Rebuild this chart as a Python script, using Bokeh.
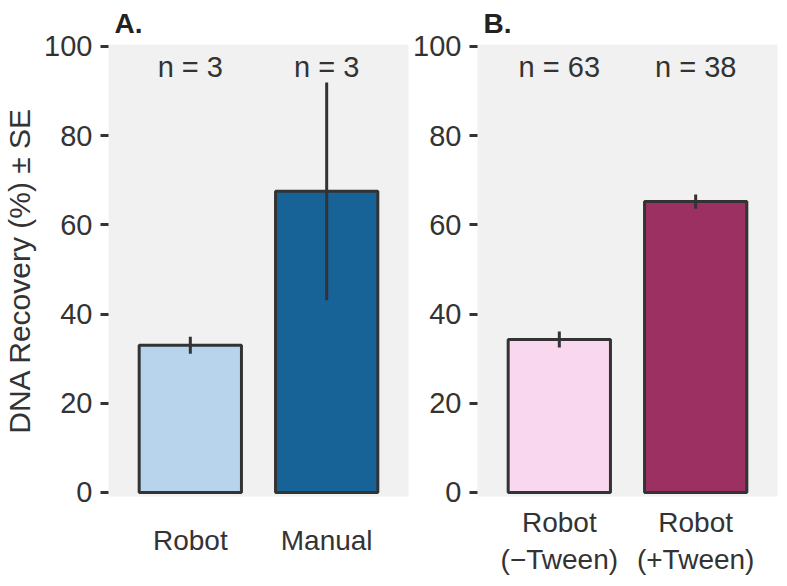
from bokeh.plotting import figure
from bokeh.layouts import row
from bokeh.models import FactorRange, Range1d, FixedTicker, ColumnDataSource
from bokeh.core.properties import value
from bokeh.embed import file_html
from bokeh.resources import INLINE

# ---- data ----
groups_a = ["Robot", "Manual"]
means_a = [33.0, 67.5]
se_a = [1.9, 24.4]
n_a = [3, 3]
colors_a = ["#b8d4ec", "#176296"]

groups_b = ["Robot\n(\u2212Tween)", "Robot\n(+Tween)"]
means_b = [34.3, 65.2]
se_b = [1.8, 1.6]
n_b = [63, 38]
colors_b = ["#f9d7ee", "#9c3062"]

y_ticks = [0, 20, 40, 60, 80, 100]
y_label = "DNA Recovery (%) \u00b1 SE"

FONT = "Liberation Sans"
FS = "29px"
DARK = "#333333"
BG = "#f1f1f1"


def panel(groups, means, ses, ns, colors, title, ylabel, label_standoff,
          min_left, min_right):
    p = figure(x_range=FactorRange(*groups, range_padding=0.1, range_padding_units="percent"),
               y_range=Range1d(-0.9, 100.4),
               frame_width=300, frame_height=452,
               min_border_left=min_left, min_border_right=min_right,
               min_border_top=10, min_border_bottom=10,
               output_backend="svg", toolbar_location=None,
               background_fill_color=BG, border_fill_color="white",
               outline_line_color=None)
    src = ColumnDataSource(dict(x=groups, top=means, color=colors,
                                lo=[m - s for m, s in zip(means, ses)],
                                hi=[m + s for m, s in zip(means, ses)],
                                n=["n = %d" % v for v in ns],
                                ny=[95.4] * len(groups)))
    p.vbar(x="x", top="top", bottom=0, width=0.75, source=src,
           fill_color="color", line_color=DARK, line_width=3)
    p.segment(x0="x", x1="x", y0="lo", y1="hi", source=src,
              line_color=DARK, line_width=3)
    p.text(x="x", y="ny", text="n", source=src, text_align="center",
           text_baseline="middle", text_font=value(FONT),
           text_font_size=FS, text_color=DARK)

    p.xgrid.visible = False
    p.ygrid.visible = False

    p.yaxis.ticker = FixedTicker(ticks=y_ticks)
    p.yaxis.axis_line_color = None
    p.yaxis.major_tick_line_color = DARK
    p.yaxis.major_tick_line_width = 3
    p.yaxis.major_tick_out = 8
    p.yaxis.major_tick_in = 0
    p.yaxis.minor_tick_line_color = None
    p.yaxis.major_label_standoff = 8
    p.yaxis.major_label_text_font = FONT
    p.yaxis.major_label_text_font_size = FS
    p.yaxis.major_label_text_color = DARK
    if ylabel:
        p.yaxis.axis_label = ylabel
        p.yaxis.axis_label_text_font = FONT
        p.yaxis.axis_label_text_font_size = "30px"
        p.yaxis.axis_label_text_font_style = "normal"
        p.yaxis.axis_label_text_color = DARK
        p.yaxis.axis_label_standoff = 5

    p.xaxis.axis_line_color = None
    p.xaxis.major_tick_line_color = None
    p.xaxis.minor_tick_line_color = None
    p.xaxis.major_label_standoff = label_standoff
    p.xaxis.major_label_text_font = FONT
    p.xaxis.major_label_text_font_size = "28px"
    p.xaxis.major_label_text_color = DARK
    p.xaxis.major_label_text_align = "center"

    p.title.text = title
    p.title.text_font = FONT
    p.title.text_font_size = "28px"
    p.title.text_font_style = "bold"
    p.title.text_color = "#222222"
    p.title.align = "left"
    p.title.offset = 6
    p.title.standoff = 11
    return p


pa = panel(groups_a, means_a, se_a, n_a, colors_a, "A.", y_label, 22, 10, 2)
pb = panel(groups_b, means_b, se_b, n_b, colors_b, "B.", None, 4, 62, 4)

layout = row(pa, pb, spacing=0)
open("out.html", "w").write(file_html(layout, INLINE))
